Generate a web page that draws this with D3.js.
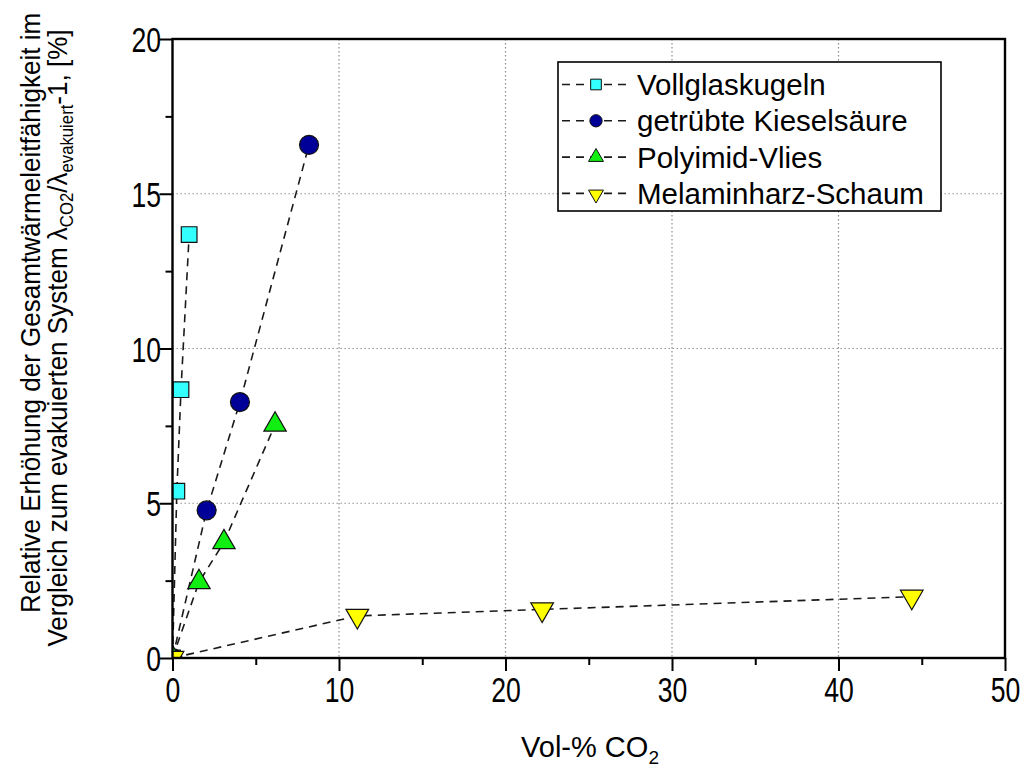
<!DOCTYPE html>
<html><head><meta charset="utf-8">
<script src="https://cdn.jsdelivr.net/npm/d3@7"></script>
<style>body{margin:0;background:#fff}</style>
</head><body>
<svg id="chart" width="1026" height="770"></svg>
<script>
// Measured series: volume fraction of CO2 vs. relative increase of conductivity
const seriesNames = ["Vollglaskugeln", "getrübte Kieselsäure", "Polyimid-Vlies", "Melaminharz-Schaum"];
const vollglasX = [0, 0.26, 0.51, 1.0];
const vollglasY = [0, 5.39, 8.67, 13.68];
const kieselX = [0, 2.05, 4.05, 8.2];
const kieselY = [0, 4.77, 8.27, 16.58];
const polyimidX = [0, 1.59, 3.09, 6.16];
const polyimidY = [0, 2.45, 3.74, 7.54];
const melaminX = [0, 11.1, 22.2, 44.4];
const melaminY = [0, 1.36, 1.57, 1.98];
const xTicks = [0, 10, 20, 30, 40, 50];
const xMinor = [5, 15, 25, 35, 45];
const yTicks = [0, 5, 10, 15, 20];
const yMinor = [2.5, 7.5, 12.5, 17.5];

const series = [
  {name: seriesNames[0], xs: vollglasX, ys: vollglasY, shape: d3.symbolSquare, size: 246, legSize: 114, rot: 0, fill: "#33ffff"},
  {name: seriesNames[1], xs: kieselX, ys: kieselY, shape: d3.symbolCircle, size: 283, legSize: 119, rot: 0, fill: "#000099"},
  {name: seriesNames[2], xs: polyimidX, ys: polyimidY, shape: d3.symbolTriangle, size: 216, legSize: 97, rot: 0, fill: "#11ee11"},
  {name: seriesNames[3], xs: melaminX, ys: melaminY, shape: d3.symbolTriangle, size: 222, legSize: 97, rot: 180, fill: "#ffff00"}
];

const L = 172.5, R = 1005, T = 39, B = 658;
const x = d3.scaleLinear().domain([0, 50]).range([L, R]);
const y = d3.scaleLinear().domain([0, 20]).range([B, T]);

const svg = d3.select("#chart");
const font = "Liberation Sans, Arial, sans-serif";

// grid
const grid = svg.append("g").attr("stroke", "#8a8a8a").attr("stroke-width", 1.2).attr("stroke-dasharray", "1.4,2.6");
grid.selectAll(".gx").data(xTicks.slice(1, -1)).join("line")
  .attr("x1", d => x(d)).attr("x2", d => x(d)).attr("y1", T).attr("y2", B);
grid.selectAll(".gy").data(yTicks.slice(1, -1)).join("line")
  .attr("y1", d => y(d)).attr("y2", d => y(d)).attr("x1", L).attr("x2", R);

// data
svg.append("clipPath").attr("id", "plotclip").append("rect")
  .attr("x", L).attr("y", T).attr("width", R - L).attr("height", B - T);
const plot = svg.append("g").attr("clip-path", "url(#plotclip)");
const line = d3.line().x(d => x(d[0])).y(d => y(d[1]));
series.forEach(s => {
  const pts = s.xs.map((v, i) => [v, s.ys[i]]);
  plot.append("path").datum(pts).attr("d", line)
    .attr("fill", "none").attr("stroke", "#1a1a1a").attr("stroke-width", 1.6)
    .attr("stroke-dasharray", "8,6");
});
series.forEach(s => {
  const pts = s.xs.map((v, i) => [v, s.ys[i]]);
  plot.selectAll(null).data(pts).join("path")
    .attr("transform", d => `translate(${x(d[0])},${y(d[1])}) rotate(${s.rot})`)
    .attr("d", d3.symbol().type(s.shape).size(s.size)())
    .attr("fill", s.fill).attr("stroke", "#111").attr("stroke-width", 1.2);
});

// axes
function styleTicks(g) {
  g.select(".domain").remove();
  g.selectAll(".tick line").attr("stroke", "#000").attr("stroke-width", 2);
}
const xAxis = svg.append("g").attr("transform", `translate(0,${B})`)
  .call(d3.axisBottom(x).tickValues(xTicks).tickSize(13).tickSizeOuter(0).tickFormat(d3.format("d")))
  .call(styleTicks);
xAxis.selectAll(".tick text").attr("y", 19).attr("dy", "0.71em")
  .attr("font-family", font).attr("font-size", 35).attr("fill", "#000")
  .attr("transform", "scale(0.76,1)");
svg.append("g").attr("transform", `translate(0,${B})`)
  .call(d3.axisBottom(x).tickValues(xMinor).tickSize(7).tickFormat(""))
  .call(styleTicks);

const yAxis = svg.append("g").attr("transform", `translate(${L},0)`)
  .call(d3.axisLeft(y).tickValues(yTicks).tickSize(13).tickSizeOuter(0).tickFormat(d3.format("d")))
  .call(styleTicks);
yAxis.selectAll(".tick text").attr("x", -15).attr("dy", "0.36em")
  .attr("font-family", font).attr("font-size", 35).attr("fill", "#000")
  .attr("transform", "scale(0.76,1)");
svg.append("g").attr("transform", `translate(${L},0)`)
  .call(d3.axisLeft(y).tickValues(yMinor).tickSize(7).tickFormat(""))
  .call(styleTicks);

// frame
svg.append("rect").attr("x", L).attr("y", T).attr("width", R - L).attr("height", B - T)
  .attr("fill", "none").attr("stroke", "#000").attr("stroke-width", 2.4);

// legend
const legX = 558, legY = 62, legW = 383, legH = 149;
const leg = svg.append("g");
leg.append("rect").attr("x", legX).attr("y", legY).attr("width", legW).attr("height", legH)
  .attr("fill", "#fff").attr("stroke", "#000").attr("stroke-width", 1.6);
series.forEach((s, i) => {
  const cy = 84.5 + i * 36.3;
  leg.append("line").attr("x1", 562).attr("x2", 632).attr("y1", cy).attr("y2", cy)
    .attr("stroke", "#1a1a1a").attr("stroke-width", 1.6).attr("stroke-dasharray", "8,6");
  leg.append("path").attr("transform", `translate(596,${cy + (s.rot ? 1 : 0)}) rotate(${s.rot})`)
    .attr("d", d3.symbol().type(s.shape).size(s.legSize)())
    .attr("fill", s.fill).attr("stroke", "#111").attr("stroke-width", 1);
  leg.append("text").attr("x", 637).attr("y", cy).attr("dy", "0.36em")
    .attr("font-family", font).attr("font-size", 29.5).attr("fill", "#000").text(s.name);
});

// axis titles
const xt = svg.append("text").attr("x", 590).attr("y", 757).attr("text-anchor", "middle")
  .attr("font-family", font).attr("font-size", 29).attr("fill", "#000");
xt.append("tspan").text("Vol-% CO");
xt.append("tspan").attr("font-size", 19).attr("dy", 7).text("2");

svg.append("text").attr("transform", "translate(40,313) rotate(-90) scale(0.93,1)")
  .attr("text-anchor", "middle").attr("font-family", font).attr("font-size", 28).attr("fill", "#000")
  .text("Relative Erhöhung der Gesamtwärmeleitfähigkeit im");
const yt2 = svg.append("text").attr("transform", "translate(67,338) rotate(-90) scale(0.93,1)")
  .attr("text-anchor", "middle").attr("font-family", font).attr("font-size", 28).attr("fill", "#000");
yt2.append("tspan").text("Vergleich zum evakuierten System λ");
yt2.append("tspan").attr("font-size", 18).attr("dy", 6).text("CO2");
yt2.append("tspan").attr("dy", -6).text("/λ");
yt2.append("tspan").attr("font-size", 18).attr("dy", 6).text("evakuiert");
yt2.append("tspan").attr("dy", -6).text("-1, [%]");
</script>
</body></html>
